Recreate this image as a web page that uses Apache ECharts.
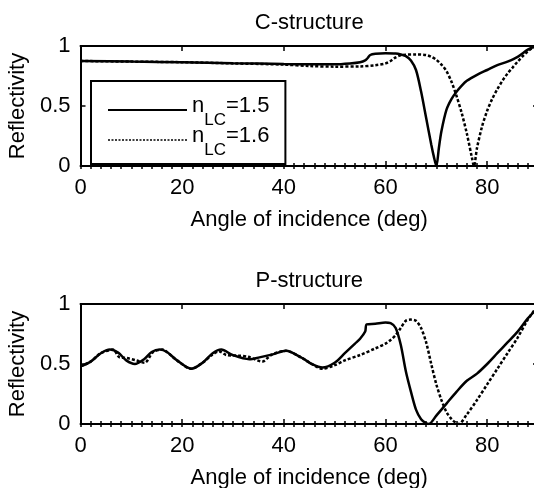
<!DOCTYPE html>
<html>
<head>
<meta charset="utf-8">
<script src="https://cdn.jsdelivr.net/npm/echarts@6/dist/echarts.min.js"></script>
<style>
html, body { margin: 0; padding: 0; background: #fff; }
#chart { width: 534px; height: 488px; }
</style>
</head>
<body>
<div id="chart"></div>
<script>
// C-structure, n_LC = 1.5 (solid) and 1.6 (dotted)
const cAngle15 = [0, 10, 20, 30, 40, 45, 50, 53, 55, 56, 56.5, 57, 58, 60, 62, 63, 64, 65, 66, 67, 68, 69, 69.5, 70, 70.5, 71, 72, 73, 74, 75, 76, 78, 80, 82, 84, 86, 88, 89, 90];
const cRefl15 = [0.875, 0.87, 0.865, 0.857, 0.85, 0.848, 0.848, 0.855, 0.865, 0.88, 0.9, 0.925, 0.935, 0.94, 0.938, 0.93, 0.915, 0.88, 0.8, 0.62, 0.4, 0.18, 0.08, 0, 0.15, 0.29, 0.47, 0.56, 0.62, 0.67, 0.71, 0.76, 0.8, 0.84, 0.87, 0.91, 0.97, 0.99, 1.0];
const cAngle16 = [0, 10, 20, 30, 40, 45, 50, 55, 58, 60, 61, 62, 63, 64, 66, 68, 69, 70, 71, 72, 73, 74, 75, 76, 77, 77.4, 78, 79, 80, 81, 82, 83, 84, 85, 86, 87, 88, 89, 90];
const cRefl16 = [0.875, 0.87, 0.865, 0.855, 0.845, 0.833, 0.828, 0.83, 0.84, 0.855, 0.875, 0.905, 0.922, 0.928, 0.93, 0.925, 0.91, 0.885, 0.845, 0.79, 0.7, 0.58, 0.44, 0.27, 0.07, 0, 0.15, 0.33, 0.46, 0.56, 0.64, 0.71, 0.77, 0.82, 0.87, 0.915, 0.955, 0.985, 1.0];

// P-structure
const pAngle15 = [0, 2, 4, 5.8, 7.4, 9, 10.7, 12.5, 14, 15.6, 17, 19, 21.8, 24, 26, 27.7, 29.9, 33.2, 35.2, 37.8, 40.4, 43.6, 45.5, 47.6, 50, 52, 54, 55, 56, 56.3, 58, 60, 61, 62, 63, 64, 65, 66, 67, 68, 68.5, 70, 72, 74, 76, 78, 80, 82, 84, 86, 88, 90];
const pRefl15 = [0.48, 0.52, 0.59, 0.62, 0.595, 0.53, 0.5, 0.54, 0.6, 0.62, 0.6, 0.53, 0.46, 0.51, 0.59, 0.62, 0.575, 0.54, 0.555, 0.58, 0.61, 0.55, 0.5, 0.47, 0.51, 0.59, 0.67, 0.71, 0.77, 0.83, 0.835, 0.845, 0.84, 0.8, 0.66, 0.44, 0.27, 0.12, 0.04, 0.005, 0, 0.07, 0.17, 0.27, 0.36, 0.42, 0.5, 0.59, 0.68, 0.77, 0.88, 0.97];
const pAngle16 = [0, 2, 4, 6.4, 7.7, 9.1, 11, 12.6, 14.3, 16.2, 17, 19, 21.8, 24, 26, 27.3, 28.7, 31, 33, 35.8, 37.5, 40.4, 43.6, 45.5, 47.6, 50, 52, 55, 58, 60, 61, 62, 63, 64, 65, 66, 67, 68, 69, 70, 71, 72, 73, 74, 74.4, 76, 78, 80, 82, 84, 86, 88, 90];
const pRefl16 = [0.48, 0.52, 0.59, 0.62, 0.555, 0.55, 0.53, 0.51, 0.6, 0.62, 0.6, 0.53, 0.46, 0.51, 0.58, 0.605, 0.575, 0.57, 0.56, 0.52, 0.575, 0.61, 0.55, 0.5, 0.46, 0.49, 0.53, 0.575, 0.63, 0.67, 0.7, 0.74, 0.8, 0.86, 0.87, 0.86, 0.8, 0.68, 0.5, 0.33, 0.2, 0.1, 0.04, 0.005, 0, 0.08, 0.2, 0.33, 0.46, 0.59, 0.72, 0.87, 0.99];

const titles = ['C-structure', 'P-structure'];
const xName = 'Angle of incidence (deg)';
const yName = 'Reflectivity';
const legendNames = ['nLC=1.5', 'nLC=1.6'];

const FONT = '"Liberation Sans", Arial, Helvetica, sans-serif';
const black = '#000';
const textStyle = { color: black, fontSize: 22, fontFamily: FONT };

const chart = echarts.init(document.getElementById('chart'));

// main x axis (labels / major ticks) and a minor-tick axis, on bottom and top
const xMain = (grid, pos, name, gap) => ({
  type: 'value', gridIndex: grid, position: pos, min: 0, max: 90, interval: 20,
  axisLine: { show: true, onZero: false, lineStyle: { color: black, width: 2 } },
  axisTick: { show: true, inside: true, length: 5, lineStyle: { color: black, width: 1.5 } },
  axisLabel: { show: pos === 'bottom', margin: 11, showMinLabel: true, showMaxLabel: false, ...textStyle },
  splitLine: { show: false },
  name, nameLocation: 'middle', nameGap: gap, nameTextStyle: textStyle
});
const xMinor = (grid, pos) => ({
  type: 'value', gridIndex: grid, position: pos, min: 0, max: 90, interval: 2,
  axisLine: { show: false },
  axisTick: { show: true, inside: true, length: 3, lineStyle: { color: black, width: 1.5 } },
  axisLabel: { show: false },
  splitLine: { show: false }
});
const yAxis = (grid, pos) => ({
  type: 'value', gridIndex: grid, position: pos, min: 0, max: 1, interval: 0.5,
  axisLine: { show: true, onZero: false, lineStyle: { color: black, width: 2 } },
  axisTick: { show: true, inside: true, length: 5, lineStyle: { color: black, width: 1.5 } },
  axisLabel: { show: pos === 'left', margin: 10, ...textStyle },
  splitLine: { show: false },
  name: pos === 'left' ? yName : '', nameLocation: 'middle', nameGap: 51, nameTextStyle: textStyle
});

const line = (name, xi, yi, xs, ys, dashed) => ({
  name, type: 'line', xAxisIndex: xi, yAxisIndex: yi,
  data: xs.map((x, i) => [x, ys[i]]),
  symbol: 'none', smooth: 0.3,
  lineStyle: { color: black, width: 2.5, type: dashed ? [3, 2] : 'solid' },
  itemStyle: { color: black },
  emphasis: { disabled: true }
});

const grids = [46, 304].map(top => ({
  left: 80.5, top, width: 457.5, height: 120, outerBoundsMode: 'none', containLabel: false
}));

const option = {
  backgroundColor: '#fff',
  animation: false,
  grid: grids,
  xAxis: [
    xMain(0, 'bottom', xName, 43), xMain(0, 'top', titles[0], 12), xMinor(0, 'bottom'), xMinor(0, 'top'),
    xMain(1, 'bottom', xName, 43), xMain(1, 'top', titles[1], 12), xMinor(1, 'bottom'), xMinor(1, 'top')
  ],
  yAxis: [yAxis(0, 'left'), yAxis(0, 'right'), yAxis(1, 'left'), yAxis(1, 'right')],
  legend: {
    left: 91, top: 81, orient: 'vertical',
    data: [
      { name: legendNames[0] },
      { name: legendNames[1], lineStyle: { width: 1.5, type: [2, 1.5] } }
    ],
    itemWidth: 79, itemHeight: 14, itemGap: -4,
    padding: [14, 16, 5, 16],
    itemStyle: { opacity: 0, borderWidth: 0 },
    borderColor: black, borderWidth: 2, borderRadius: 0, backgroundColor: '#fff',
    selectedMode: false,
    formatter: name => '{n|n}{s|LC}{n|=' + name.split('=')[1] + '}',
    textStyle: {
      color: black, fontFamily: FONT, padding: [0, 0, 8, 0],
      rich: {
        n: { fontSize: 22, lineHeight: 22, padding: [0, 0, 0, 0], verticalAlign: 'top', color: black, fontFamily: FONT },
        s: { fontSize: 17, lineHeight: 10, padding: [17, 0, 0, 0], verticalAlign: 'top', color: black, fontFamily: FONT }
      }
    }
  },
  series: [
    line(legendNames[0], 0, 0, cAngle15, cRefl15, false),
    line(legendNames[1], 0, 0, cAngle16, cRefl16, true),
    line('P 1.5', 4, 2, pAngle15, pRefl15, false),
    line('P 1.6', 4, 2, pAngle16, pRefl16, true)
  ]
};

chart.setOption(option);
window.addEventListener('resize', () => chart.resize());
</script>
</body>
</html>
